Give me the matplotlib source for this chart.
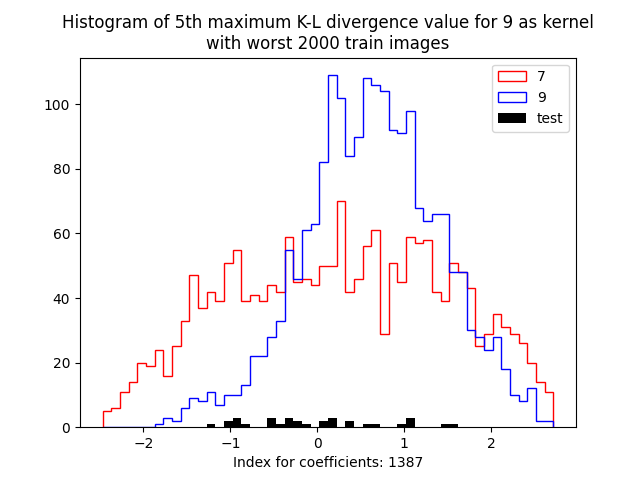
import matplotlib
matplotlib.use('Agg')
import matplotlib.pyplot as plt
import numpy as np

# shared bin edges for all three histograms
bin_start = -2.469
bin_stop = 2.715
n_bins = 52

counts_7 = [5, 6, 11, 14, 20, 19, 24, 16, 25, 33, 47, 37, 42, 39, 51, 55, 39, 41, 39, 44,
            42, 59, 45, 46, 44, 50, 50, 70, 42, 46, 56, 61, 29, 51, 45, 59, 57, 58, 42, 39,
            51, 48, 43, 25, 29, 35, 31, 29, 26, 20, 14, 11]
counts_9 = [0, 0, 0, 0, 0, 0, 1, 3, 2, 6, 9, 8, 11, 7, 10, 10, 13, 22, 22, 28,
            33, 55, 46, 61, 63, 82, 109, 102, 84, 90, 108, 106, 104, 92, 91, 98, 68, 64, 66, 66,
            48, 48, 30, 28, 24, 28, 18, 10, 8, 12, 2, 2]
counts_test = [0, 0, 0, 0, 0, 0, 0, 0, 0, 0, 0, 0, 1, 0, 2, 3, 1, 0, 0, 3,
               1, 3, 2, 1, 0, 2, 3, 0, 2, 0, 1, 1, 0, 0, 1, 3, 0, 0, 0, 1,
               1, 0, 0, 0, 0, 0, 0, 0, 0, 0, 0, 0]

edges = np.linspace(bin_start, bin_stop, n_bins + 1)
centers = (edges[:-1] + edges[1:]) / 2

fig = plt.figure(figsize=(6.4, 4.8), dpi=100)
plt.hist(centers, bins=edges, weights=counts_7, histtype='step', color='red', label='7')
plt.hist(centers, bins=edges, weights=counts_9, histtype='step', color='blue', label='9')
plt.hist(centers, bins=edges, weights=counts_test, color='black', label='test')
plt.title('Histogram of 5th maximum K-L divergence value for 9 as kernel\nwith worst 2000 train images')
plt.xlabel('Index for coefficients: 1387')
plt.legend(loc='upper right')
plt.savefig('out.png')
